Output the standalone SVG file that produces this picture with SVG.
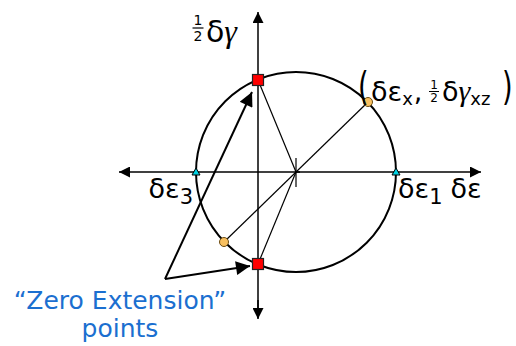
<svg xmlns="http://www.w3.org/2000/svg" width="516" height="346" viewBox="0 0 516 346">
<style>
.t{font-family:"DejaVu Sans",Verdana,sans-serif;fill:#000}
.g{font-family:"Liberation Serif",serif;font-style:italic}
.ax{stroke:#000;stroke-width:1.5;fill:none}
.ln{stroke:#000;stroke-width:1.2;fill:none}
.ar{stroke:#000;stroke-width:2;fill:none}
.sq{fill:#ff0000;stroke:#222;stroke-width:1.2}
.tri{fill:#00d0e0;stroke:#000;stroke-width:1}
.pt{fill:#f8c060;stroke:#6a4a10;stroke-width:1}
.blue{font-family:"DejaVu Sans",Verdana,sans-serif;fill:#1b6fd0;font-size:25px}
</style>
<defs>
<marker id="ah" viewBox="0 0 10 10" refX="10" refY="5" markerWidth="11" markerHeight="11" markerUnits="userSpaceOnUse" orient="auto"><path d="M0,0 L10,5 L0,10 z" fill="#000"/></marker>
<marker id="ah2" viewBox="0 0 10 10" refX="10" refY="5" markerWidth="16" markerHeight="14" markerUnits="userSpaceOnUse" orient="auto"><path d="M0,0 L10,5 L0,10 z" fill="#000"/></marker>
</defs>
<g id="connectors">
<line class="ax" x1="258" y1="318" x2="258" y2="12" marker-end="url(#ah)"/>
<line class="ax" x1="258" y1="300" x2="258" y2="319" marker-end="url(#ah)"/>
<line class="ax" x1="296" y1="172" x2="481" y2="172" marker-end="url(#ah)"/>
<line class="ax" x1="300" y1="172" x2="119" y2="172" marker-end="url(#ah)"/>
<line class="ln" x1="296" y1="158" x2="296" y2="187"/>
<line class="ln" x1="368" y1="102" x2="224" y2="242"/>
<line class="ln" x1="258" y1="80" x2="296" y2="172"/>
<line class="ln" x1="296" y1="172" x2="258" y2="264"/>
<line class="ar" x1="165" y1="279" x2="252" y2="92" marker-end="url(#ah2)"/>
<line class="ar" x1="165" y1="279" x2="250" y2="266" marker-end="url(#ah2)"/>
</g>
<g id="circle"><circle cx="296" cy="172" r="100" fill="none" stroke="#000" stroke-width="2"/></g>
<g id="e3pt"><path class="tri" d="M196,168 L200,175 L192,175 z"/></g>
<g id="e1pt"><path class="tri" d="M396,168 L400,175 L392,175 z"/></g>
<g id="zero-top"><rect class="sq" x="252.5" y="74.5" width="11" height="11"/></g>
<g id="zero-bottom"><rect class="sq" x="252.5" y="258.5" width="11" height="11"/></g>
<g id="pt-x"><circle class="pt" cx="368" cy="102" r="4.5"/></g>
<g id="pt-opp"><circle class="pt" cx="224" cy="242" r="4.5"/></g>
<g id="label-gamma">
<text class="t" x="198" y="25" font-size="14" text-anchor="middle">1</text>
<line x1="192.5" y1="28" x2="203.5" y2="28" stroke="#000" stroke-width="1.2"/>
<text class="t" x="198" y="41" font-size="14" text-anchor="middle">2</text>
<text class="t" x="206" y="42" font-size="30">δ<tspan class="g" font-size="32">γ</tspan></text>
</g>
<g id="label-e3"><text class="t" x="193" y="198" font-size="27" text-anchor="end">δε<tspan font-size="21" dy="6">3</tspan></text></g>
<g id="label-e1"><text class="t" x="398" y="198" font-size="27">δε<tspan font-size="21" dy="6">1</tspan><tspan dy="-6" dx="8">δε</tspan></text></g>
<g id="label-point">
<text class="t" x="358" y="100" font-size="34" transform="translate(358 100) scale(0.8 1.15) translate(-358 -100)">(</text>
<text class="t" x="371" y="101" font-size="27">δε<tspan font-size="18" dy="4">x</tspan><tspan dy="-4" dx="1">,</tspan></text>
<text class="t" x="434" y="89" font-size="12" text-anchor="middle">1</text>
<line x1="429" y1="91.5" x2="439" y2="91.5" stroke="#000" stroke-width="1"/>
<text class="t" x="434" y="102" font-size="12" text-anchor="middle">2</text>
<text class="t" x="442" y="101" font-size="27">δ<tspan class="g" font-size="30">γ</tspan><tspan font-size="18" dy="4">xz</tspan></text>
<text class="t" x="502" y="100" font-size="34" transform="translate(502 100) scale(0.8 1.15) translate(-502 -100)">)</text>
</g>
<g id="label-zero">
<text class="blue" x="120" y="309" text-anchor="middle">“Zero Extension”</text>
<text class="blue" x="120" y="337" text-anchor="middle">points</text>
</g>
</svg>
